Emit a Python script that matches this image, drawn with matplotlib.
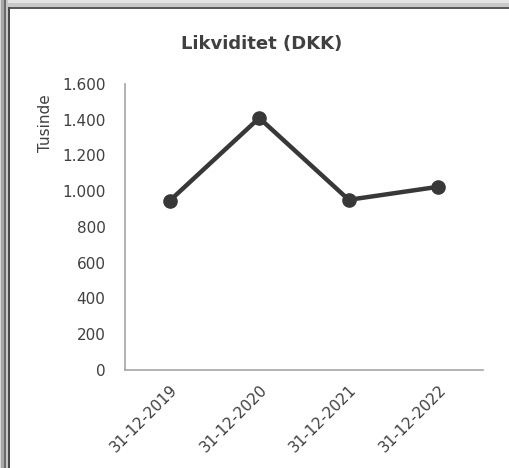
import matplotlib.pyplot as plt
from matplotlib.patches import Rectangle

# data
datoer = ["31-12-2019", "31-12-2020", "31-12-2021", "31-12-2022"]
likviditet = [947, 1410, 952, 1025]
y_ticks = [0, 200, 400, 600, 800, 1000, 1200, 1400, 1600]

W, H = 510, 468
tekst = "#404040"

fig = plt.figure(figsize=(W / 100, H / 100), dpi=100)
fig.patch.set_facecolor("white")

# vindueskant (top og venstre)
def px_rect(x, y, w, h, color):
    fig.add_artist(Rectangle((x / W, 1 - (y + h) / H), w / W, h / H,
                             transform=fig.transFigure, facecolor=color,
                             edgecolor="none", zorder=0))

px_rect(0, 0, W, 3, "#e4e4e4")
px_rect(0, 3, W, 4, "#c8c8c8")
px_rect(10, 7, W - 10, 2, "#5a5a5a")
px_rect(0, 0, 1, H, "#d8d8d8")
px_rect(1, 0, 3, H, "#a8a8a8")
px_rect(4, 0, 2, H, "#6a6a6a")
px_rect(6, 0, 2, H, "#c8c8c8")
px_rect(8, 7, 2, H, "#4a4a4a")

ax = fig.add_axes([125 / W, 1 - 370 / H, (483 - 125) / W, (370 - 84) / H])
x = [i + 0.5 for i in range(len(datoer))]
ax.plot(x, likviditet, color="#383838", lw=3.2, marker="o", markersize=9.5)

ax.set_xlim(0, len(datoer))
ax.set_ylim(0, 1600)
ax.set_yticks(y_ticks)
ax.set_yticklabels([f"{v:,}".replace(",", ".") for v in y_ticks])
ax.set_xticks(x)
ax.set_xticklabels(datoer, rotation=45, ha="right", rotation_mode="anchor")
ax.tick_params(length=0, labelsize=11, colors=tekst)
ax.tick_params(axis="y", pad=14)
ax.tick_params(axis="x", pad=9)

for s in ["top", "right"]:
    ax.spines[s].set_visible(False)
for s in ["left", "bottom"]:
    ax.spines[s].set_color("#a6a6a6")
    ax.spines[s].set_linewidth(1.2)

fig.text(45 / W, 1 - 123 / H, "Tusinde", rotation=90, ha="center", va="center",
         color=tekst, fontsize=11)
fig.text(262 / W, 1 - 44 / H, "Likviditet (DKK)", ha="center", va="center",
         color=tekst, fontsize=13, fontweight="bold")

fig.savefig("out.png", dpi=100, facecolor="white")
